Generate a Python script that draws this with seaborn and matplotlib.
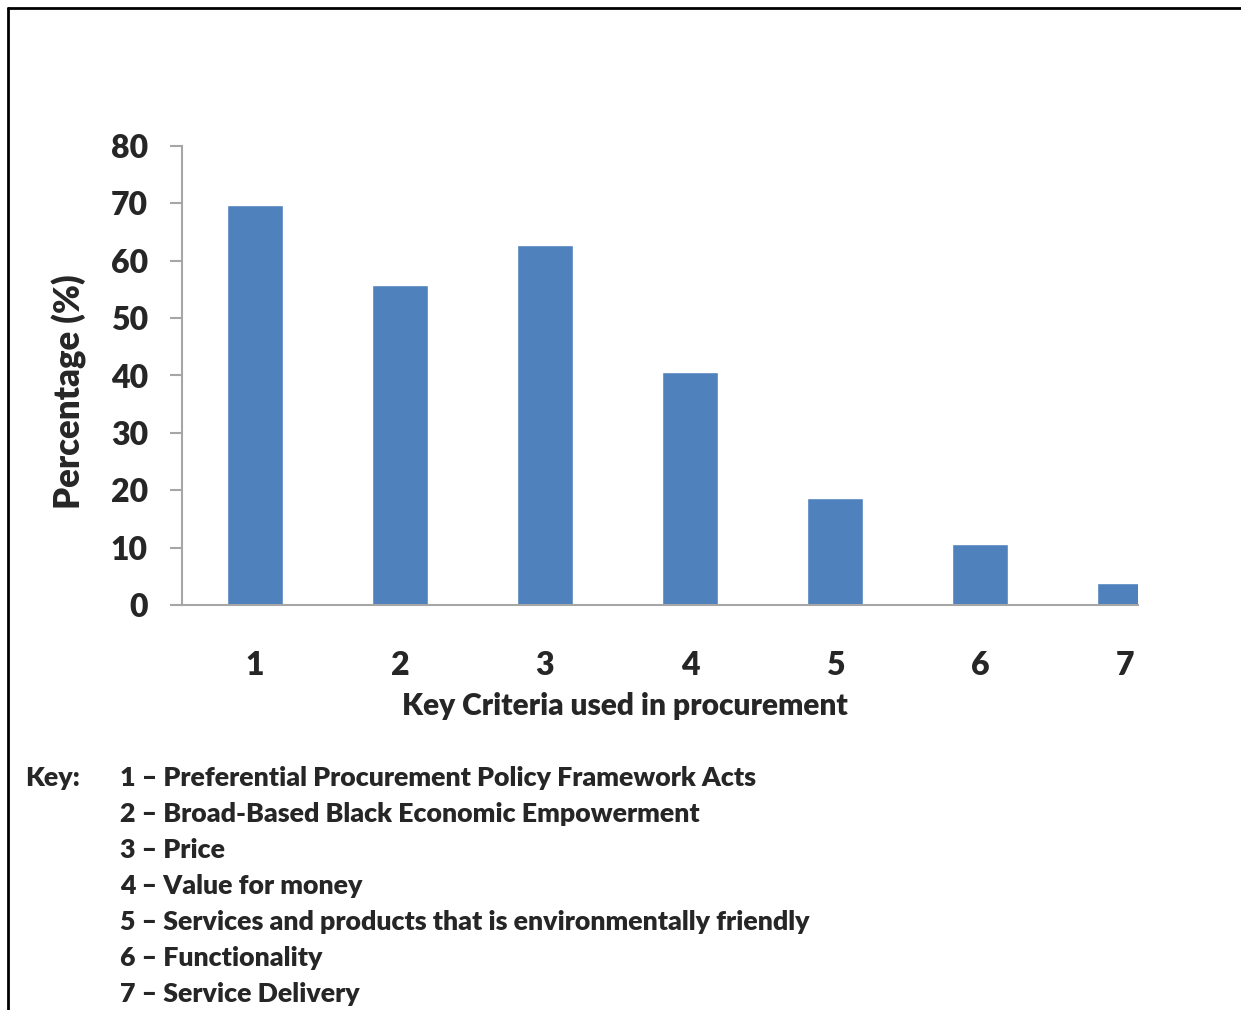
import matplotlib
matplotlib.use("Agg")
import matplotlib.pyplot as plt
from matplotlib.lines import Line2D
import pandas as pd
import seaborn as sns

sns.set_style('white')
plt.rcParams['font.family'] = ['Lato', 'DejaVu Sans']
plt.rcParams['font.weight'] = 'heavy'

criteria = ["1", "2", "3", "4", "5", "6", "7"]
percentages = [69.8, 55.8, 62.7, 40.6, 18.6, 10.6, 3.8]
key_labels = [
    "1 \u2013 Preferential Procurement Policy Framework Acts",
    "2 \u2013 Broad-Based Black Economic Empowerment",
    "3 \u2013 Price",
    "4 \u2013 Value for money",
    "5 \u2013 Services and products that is environmentally friendly",
    "6 \u2013 Functionality",
    "7 \u2013 Service Delivery",
]

df = pd.DataFrame({"criteria": criteria, "pct": percentages})

fig = plt.figure(figsize=(12.41, 10.10), dpi=100)
ax = fig.add_axes([182 / 1241, 1 - 605 / 1010, (1138 - 182) / 1241, (605 - 146) / 1010])

sns.barplot(data=df, x="criteria", y="pct", color="#4F81BD", saturation=1,
            width=0.39, ax=ax)

ax.set_ylim(0, 80)
ax.set_xlim(-0.503, 6.09)
ax.set_yticks(range(0, 81, 10))
for s in ["top", "right"]:
    ax.spines[s].set_visible(False)
for s in ["left", "bottom"]:
    ax.spines[s].set_color("#A6A6A6")
    ax.spines[s].set_linewidth(1.5)
ax.tick_params(axis="y", left=True, direction="out", length=8.6, width=1.5,
               color="#A6A6A6", labelsize=23, pad=16)
ax.tick_params(axis="x", bottom=False, length=0, labelsize=23, pad=33)
for lab in ax.get_xticklabels() + ax.get_yticklabels():
    lab.set_fontweight("heavy")
ax.set_xlabel("Key Criteria used in procurement", fontsize=21.5, fontweight="heavy")
ax.xaxis.set_label_coords((625 - 182) / 956, -0.19)
ax.set_ylabel("Percentage (%)", fontsize=25, fontweight="heavy")
ax.yaxis.set_label_coords(-0.099, (605 - 392) / 459)

# key below the chart
fig.text(25 / 1241, 1 - 778 / 1010, "Key:", fontsize=19.3, fontweight="heavy", va="center")
for i, txt in enumerate(key_labels):
    fig.text(120 / 1241, 1 - (778 + 36 * i) / 1010, txt, fontsize=19.3,
             fontweight="heavy", va="center")

# frame lines (left and top)
fig.add_artist(Line2D([8 / 1241, 8 / 1241], [0, 1 - 8 / 1010], color="black", lw=2))
fig.add_artist(Line2D([8 / 1241, 1], [1 - 8 / 1010, 1 - 8 / 1010], color="black", lw=2))

fig.savefig("out.png", dpi=100)
